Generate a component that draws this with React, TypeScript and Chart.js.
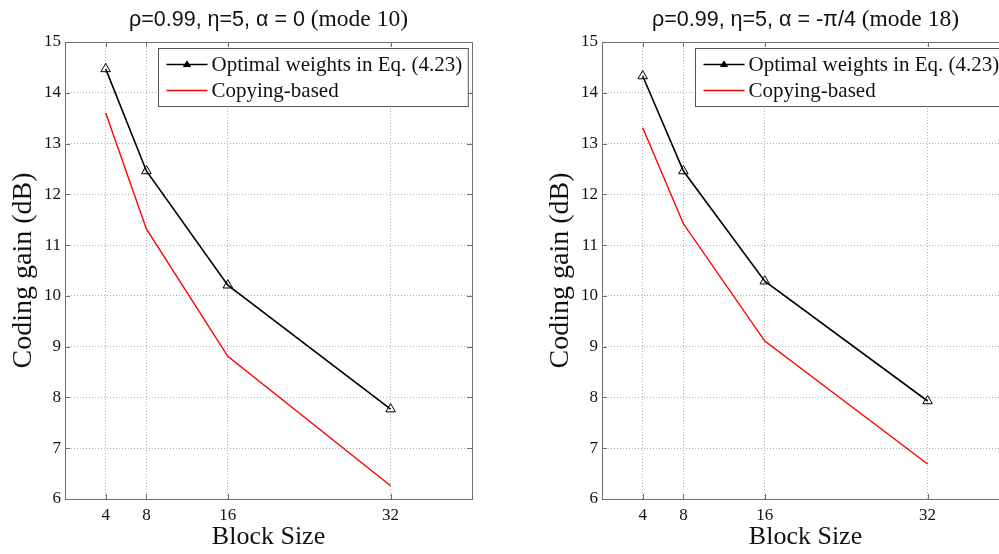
import React, { useEffect, useRef } from "react";
import { Chart, registerables } from "chart.js";

Chart.register(...registerables);

// ---- data ----
const blockSizes = [4, 8, 16, 32];
const xTickValues = [4, 8, 16, 32];
const yTickValues = [6, 7, 8, 9, 10, 11, 12, 13, 14, 15];
const leftOptimal = [14.47, 12.46, 10.21, 7.77];
const leftCopying = [13.6, 11.32, 8.81, 6.26];
const rightOptimal = [14.33, 12.46, 10.29, 7.93];
const rightCopying = [13.31, 11.42, 9.11, 6.69];
const seriesLabels = ["Optimal weights in Eq. (4.23)", "Copying-based"];
const leftTitle = ["ρ=0.99, η=5, α = 0", " (mode 10)"];
const rightTitle = ["ρ=0.99, η=5, α = -π/4", " (mode 18)"];
const xAxisLabel = "Block Size";
const yAxisLabel = "Coding gain (dB)";

const SERIF = '"Liberation Serif", "Times New Roman", serif';
const SANS = '"Liberation Sans", Arial, sans-serif';

function makeDecor(titleParts: string[]) {
  return {
    id: "decor",
    beforeDatasetsDraw(chart: any) {
      const { ctx, chartArea: a, scales } = chart;
      ctx.save();
      ctx.strokeStyle = "#6e6e6e";
      ctx.lineWidth = 1;
      ctx.strokeRect(Math.round(a.left) + 0.5, Math.round(a.top) + 0.5, Math.round(a.right - a.left), Math.round(a.bottom - a.top));
      const tl = 5;
      ctx.beginPath();
      for (const v of xTickValues) {
        const px = Math.round(scales.x.getPixelForValue(v)) + 0.5;
        ctx.moveTo(px, a.bottom);
        ctx.lineTo(px, a.bottom - tl);
        ctx.moveTo(px, a.top);
        ctx.lineTo(px, a.top + tl);
      }
      for (const v of yTickValues) {
        const py = Math.round(scales.y.getPixelForValue(v)) + 0.5;
        ctx.moveTo(a.left, py);
        ctx.lineTo(a.left + tl, py);
        ctx.moveTo(a.right, py);
        ctx.lineTo(a.right - tl, py);
      }
      ctx.stroke();
      ctx.restore();
    },
    afterDraw(chart: any) {
      const { ctx, chartArea: a } = chart;
      ctx.save();
      // title (mixed fonts)
      const f1 = "21.5px " + SANS;
      const f2 = "23.5px " + SERIF;
      ctx.font = f1;
      const w1 = ctx.measureText(titleParts[0]).width;
      ctx.font = f2;
      const w2 = ctx.measureText(titleParts[1]).width;
      const cx = (a.left + a.right) / 2;
      const tx = cx - (w1 + w2) / 2;
      ctx.fillStyle = "#111";
      ctx.textBaseline = "alphabetic";
      ctx.textAlign = "left";
      ctx.font = f1;
      ctx.fillText(titleParts[0], tx, 26);
      ctx.font = f2;
      ctx.fillText(titleParts[1], tx + w1, 26);

      // legend
      const lf = "21px " + SERIF;
      ctx.font = lf;
      const ds = chart.data.datasets;
      let textW = 0;
      for (const d of ds) textW = Math.max(textW, ctx.measureText(d.label).width);
      const boxW = 8 + 41 + 4 + textW + 6;
      const boxH = 58;
      const lx = Math.round(a.right - 4 - boxW) + 0.5;
      const ly = Math.round(a.top + 6) + 0.5;
      ctx.fillStyle = "#fff";
      ctx.fillRect(lx, ly, boxW, boxH);
      ctx.strokeStyle = "#555";
      ctx.lineWidth = 1;
      ctx.strokeRect(lx, ly, boxW, boxH);
      ds.forEach((d: any, i: number) => {
        const y = ly + 16 + i * 26;
        ctx.strokeStyle = d.borderColor;
        ctx.lineWidth = d.borderWidth;
        ctx.beginPath();
        ctx.moveTo(lx + 8, y);
        ctx.lineTo(lx + 49, y);
        ctx.stroke();
        if (d.pointRadius > 0) {
          const mx = lx + 28.5;
          const r = 3.5;
          ctx.lineWidth = 1;
          ctx.fillStyle = "#000";
          ctx.beginPath();
          ctx.moveTo(mx, y - r);
          ctx.lineTo(mx + r, y + r * 0.6);
          ctx.lineTo(mx - r, y + r * 0.6);
          ctx.closePath();
          ctx.fill();
          ctx.stroke();
        }
        ctx.fillStyle = "#111";
        ctx.font = lf;
        ctx.textBaseline = "middle";
        ctx.fillText(d.label, lx + 53, y + 1);
      });
      ctx.restore();
    },
  };
}

function Panel(props: { left: number; title: string[]; optimal: number[]; copying: number[] }) {
  const ref = useRef<HTMLCanvasElement>(null);
  useEffect(() => {
    if (!ref.current) return;
    const chart = new Chart(ref.current, {
      type: "line",
      data: {
        datasets: [
          {
            label: seriesLabels[0],
            data: blockSizes.map((x, i) => ({ x, y: props.optimal[i] })),
            borderColor: "#000",
            borderWidth: 1.6,
            pointStyle: "triangle",
            pointRadius: 5.5,
            pointBorderWidth: 1,
            pointBorderColor: "#000",
            pointBackgroundColor: "rgba(255,255,255,0)",
            tension: 0,
          },
          {
            label: seriesLabels[1],
            data: blockSizes.map((x, i) => ({ x, y: props.copying[i] })),
            borderColor: "#ff0000",
            borderWidth: 1.4,
            pointRadius: 0,
            tension: 0,
          },
        ],
      },
      options: {
        animation: false,
        responsive: false,
        layout: { padding: { top: 42, right: 27, left: 0, bottom: 0 } },
        plugins: { legend: { display: false }, title: { display: false }, tooltip: { enabled: false } },
        scales: {
          x: {
            type: "linear",
            min: 0,
            max: 40,
            afterFit: (s: any) => {
              s.height = 55;
            },
            afterBuildTicks: (s: any) => {
              s.ticks = xTickValues.map((v) => ({ value: v }));
            },
            ticks: { font: { family: SERIF, size: 17 }, color: "#111", padding: 6, maxRotation: 0 },
            grid: { color: "#b0b0b0", lineWidth: 1, drawTicks: false },
            border: { display: false, dash: [1, 2] },
            title: { display: true, text: xAxisLabel, font: { family: SERIF, size: 26 }, color: "#111", padding: { top: 0, bottom: 1 } },
          },
          y: {
            type: "linear",
            min: 6,
            max: 15,
            afterFit: (s: any) => {
              s.width = 65;
            },
            afterBuildTicks: (s: any) => {
              s.ticks = yTickValues.map((v) => ({ value: v }));
            },
            ticks: { font: { family: SERIF, size: 17 }, color: "#111", padding: 4 },
            grid: { color: "#b0b0b0", lineWidth: 1, drawTicks: false },
            border: { display: false, dash: [1, 2] },
            title: { display: true, text: yAxisLabel, font: { family: SERIF, size: 28 }, color: "#111", padding: { top: 7, bottom: 0 } },
          },
        },
      },
      plugins: [makeDecor(props.title)],
    } as any);
    return () => chart.destroy();
  }, []);
  return (
    <canvas
      ref={ref}
      width={499}
      height={554}
      style={{ position: "absolute", left: props.left, top: 0, width: 499, height: 554 }}
    />
  );
}

export default function App() {
  return (
    <div style={{ position: "fixed", left: 0, top: 0, width: 999, height: 554, overflow: "hidden", background: "#fff" }}>
      <Panel left={0} title={leftTitle} optimal={leftOptimal} copying={leftCopying} />
      <Panel left={537} title={rightTitle} optimal={rightOptimal} copying={rightCopying} />
    </div>
  );
}
